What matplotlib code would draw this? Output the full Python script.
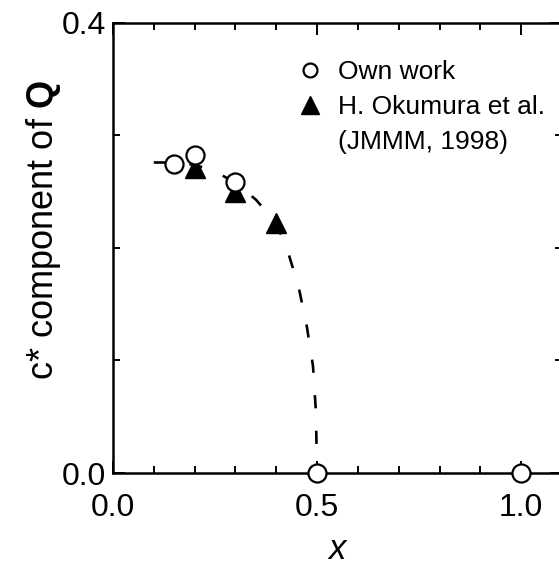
import matplotlib
matplotlib.use("Agg")
import matplotlib.pyplot as plt
from matplotlib.lines import Line2D
from matplotlib.ticker import MultipleLocator

plt.rcParams['font.family'] = ['Liberation Sans', 'DejaVu Sans']
plt.rcParams['mathtext.fontset'] = 'custom'
plt.rcParams['mathtext.rm'] = 'Liberation Sans'
plt.rcParams['mathtext.bf'] = 'Liberation Sans:bold'

# own measurements
own_x = [0.15, 0.2, 0.3, 0.5, 1.0]
own_q = [0.275, 0.283, 0.259, 0.0, 0.0]

# H. Okumura et al. (JMMM, 1998)
oku_x = [0.2, 0.3, 0.4]
oku_q = [0.271, 0.250, 0.222]

# guide to the eye
guide_x = [0.10, 0.15, 0.20, 0.25, 0.30, 0.35, 0.40, 0.43, 0.455, 0.475, 0.49, 0.497, 0.50]
guide_q = [0.276, 0.276, 0.274, 0.268, 0.258, 0.243, 0.222, 0.195, 0.165, 0.13, 0.095, 0.055, 0.0]

fig = plt.figure(figsize=(5.59, 5.66), dpi=100)
ax = fig.add_axes([0.2021, 0.1643, 0.8033, 0.7951])

ax.plot(guide_x, guide_q, color='black', lw=1.9, linestyle=(0, (5, 8.5)), zorder=2)
ax.plot(oku_x, oku_q, linestyle='none', marker='^', ms=15, mfc='black', mec='black',
        zorder=3, clip_on=False)
ax.plot(own_x, own_q, linestyle='none', marker='o', ms=13, mfc='white', mec='black',
        mew=1.6, zorder=4, clip_on=False)

ax.set_xlim(0, 1.1)
ax.set_ylim(0, 0.4)
ax.xaxis.set_major_locator(MultipleLocator(0.5))
ax.xaxis.set_minor_locator(MultipleLocator(0.1))
ax.yaxis.set_major_locator(MultipleLocator(0.4))
ax.yaxis.set_minor_locator(MultipleLocator(0.1))
ax.xaxis.set_major_formatter(plt.FormatStrFormatter('%.1f'))
ax.yaxis.set_major_formatter(plt.FormatStrFormatter('%.1f'))

ax.tick_params(which='both', direction='in', top=True, right=True, width=1.4,
               labelsize=23, colors='black')
ax.tick_params(which='major', length=8.6)
ax.tick_params(which='minor', length=5)
ax.tick_params(axis='x', pad=14.5)
ax.tick_params(axis='y', pad=5)
for s in ax.spines.values():
    s.set_linewidth(1.8)

ax.set_ylabel(r'c* component of $\mathbf{Q}$', fontsize=26)
ax.yaxis.set_label_coords(-0.112, 0.54)
ax.set_xlabel('x', fontsize=25, fontstyle='italic')
ax.xaxis.set_label_coords(0.5, -0.133)

handles = [
    Line2D([], [], linestyle='none', marker='o', ms=10, mfc='white', mec='black', mew=1.6),
    Line2D([], [], linestyle='none', marker='^', ms=13, mfc='black', mec='black'),
    Line2D([], [], linestyle='none', marker='none'),
]
labels = ['Own work', 'H. Okumura et al.', '(JMMM, 1998)']
ax.legend(handles, labels, loc='upper left', bbox_to_anchor=(0.421, 0.917), frameon=False,
          fontsize=19, handlelength=0.6, handletextpad=0.76, labelspacing=0.42,
          borderpad=0, borderaxespad=0)

fig.savefig('out.png', dpi=100)
